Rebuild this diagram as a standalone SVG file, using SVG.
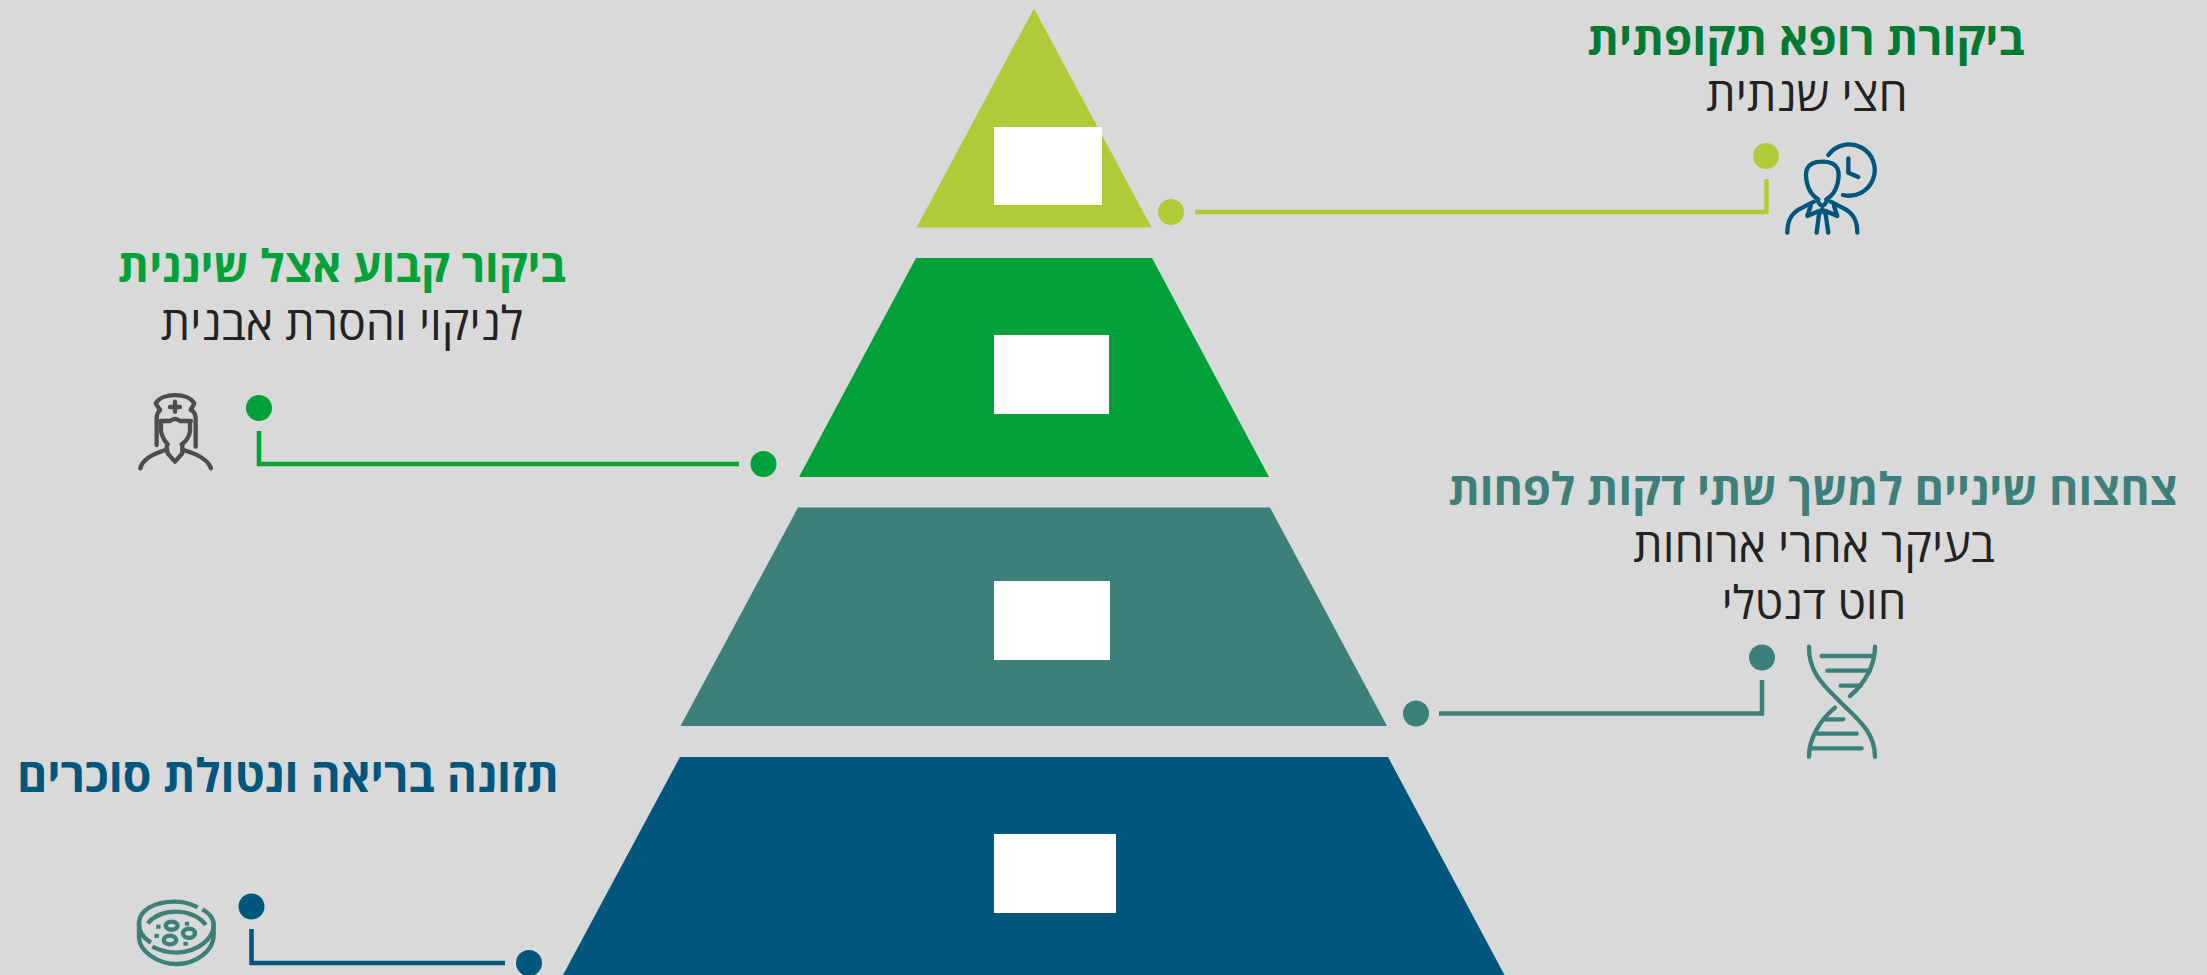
<svg xmlns="http://www.w3.org/2000/svg" width="2207" height="975" viewBox="0 0 2207 975">
<style>
text{font-family:"Open Sans","Liberation Sans",sans-serif;text-anchor:middle;direction:rtl}
.t{font-size:45.500px;font-weight:700}
.s{font-size:46.500px;font-weight:500;fill:#222}
.w{fill:#fff}
.c{fill:none;stroke-width:4.500}
.i{fill:none;stroke-linecap:round;stroke-linejoin:round}
</style>
<rect width="2207" height="975" fill="#d9d9d9"/>
<g id="connectors">
<path class="c" stroke="#b0cb38" d="M1195 212H1766.500V179"/>
<path class="c" stroke="#00a139" d="M739 464H259V431"/>
<path class="c" stroke="#3d7f7a" d="M1439 713.500H1762V680"/>
<path class="c" stroke="#00567d" d="M505 963H251.500V929"/>
</g>
<g id="tier1">
<polygon fill="#b0cb38" points="1034,8.500 1151.500,227.500 916.500,227.500"/>
<rect class="w" x="994" y="127" width="108" height="78"/>
<circle cx="1171" cy="212" r="13" fill="#b0cb38"/>
<circle cx="1766" cy="156" r="13" fill="#b0cb38"/>
<text class="t" x="1806" y="54.500" fill="#007a33">ביקורת רופא תקופתית</text>
<text class="s" x="1807" y="111">חצי שנתית</text>
<g id="icon-doctor" class="i" stroke="#00567d" stroke-width="13" transform="translate(1769 131) scale(.3333)">
<path d="M178 72A77 77 0 1 1 222 192"/>
<path d="M238 82V125L268 138"/>
<path d="M148 205C130 195 120 180 115 160C106 125 108 92 160 92C212 92 214 125 205 160C200 180 190 195 172 205"/>
<path d="M146 207Q150 222 160 224Q170 222 174 207"/>
<path d="M135 212L90 235C65 250 55 270 55 305M185 212L230 235C255 250 265 270 265 305"/>
<path d="M125 225L115 255L150 240M195 225L205 255L170 240"/>
<path d="M160 235L150 250L143 305M160 235L170 250L178 305"/>
</g>
</g>
<g id="tier2">
<polygon fill="#00a139" points="916,258 1152,258 1269,477 799,477"/>
<rect class="w" x="994" y="335" width="115" height="79"/>
<circle cx="763.500" cy="464" r="13" fill="#00a139"/>
<circle cx="259" cy="408" r="13" fill="#00a139"/>
<text class="t" x="342" y="281.500" fill="#00a139" style="font-size:44.800px">ביקור קבוע אצל שיננית</text>
<text class="s" x="342" y="339.500">לניקוי והסרת אבנית</text>
<g id="icon-nurse" class="i" stroke="#4d4d4d" stroke-width="13" transform="translate(125 385) scale(.3333)">
<path d="M105 75L92 55C110 22 190 22 208 55L197 75"/>
<path d="M95 180V100Q95 85 105 75M212 185V100Q212 85 200 75"/>
<path d="M106 108H135Q150 96 165 108H198"/>
<path d="M150 50V80M135 66H165"/>
<path d="M108 115V140Q115 165 128 178M195 115V140Q190 165 170 178"/>
<path d="M125 185L128 205L150 230L172 205V180"/>
<path d="M46 250Q54 215 122 195M258 250Q246 215 175 195"/>
</g>
</g>
<g id="tier3">
<polygon fill="#3d7f7a" points="798,507.500 1270,507.500 1387,726 680.500,726"/>
<rect class="w" x="994" y="581" width="116" height="79"/>
<circle cx="1416" cy="713.500" r="13" fill="#3d7f7a"/>
<circle cx="1762" cy="657.500" r="13" fill="#3d7f7a"/>
<text class="t" x="1813" y="504.500" fill="#3d7f7a" style="font-size:44.900px">צחצוח שיניים למשך שתי דקות לפחות</text>
<text class="s" x="1814" y="561.500">בעיקר אחרי ארוחות</text>
<text class="s" x="1814" y="618.500" style="font-size:45.500px">חוט דנטלי</text>
<g id="icon-dna" class="i" stroke="#3d7f7a" stroke-width="13" transform="translate(1790 635) scale(.3333)">
<path d="M57 35C55 110 100 150 150 200C200 250 255 290 255 365"/>
<path d="M255 35C255 90 225 145 180 183M135 218C90 255 57 310 57 365"/>
<path d="M95 63H250M112 107H240M152 152H212M105 253H160M78 296H200M60 340H215"/>
</g>
</g>
<g id="tier4">
<polygon fill="#00567d" points="680,757 1388,757 1504.500,975 563,975"/>
<rect class="w" x="994" y="834" width="122" height="79"/>
<circle cx="529" cy="963" r="13" fill="#00567d"/>
<circle cx="251.500" cy="906.500" r="13" fill="#00567d"/>
<text class="t" x="288" y="791.500" fill="#00567d" style="font-size:46.100px">תזונה בריאה ונטולת סוכרים</text>
<g id="icon-dish" class="i" stroke="#3d7f7a" stroke-width="13" transform="translate(125 890) scale(.3333)" style="stroke-linecap:butt">
<path d="M218 52C190 38 170 35 150 35C90 35 42 60 42 100C42 125 55 145 78 158"/>
<path d="M232 58C255 70 266 85 266 105C266 145 220 185 155 188C130 188 105 182 82 170"/>
<path d="M68 100C90 75 120 65 152 65C190 65 225 80 242 105"/>
<path d="M42 95V140C42 185 100 222 155 222C210 222 266 185 266 135V95"/>
<ellipse cx="140" cy="107" rx="18" ry="12"/>
<ellipse cx="135" cy="150" rx="19" ry="13"/>
<ellipse cx="192" cy="130" rx="18" ry="14"/>
<path d="M100 104V116M95 132V144M186 95V107M182 155V167"/>
</g>
</g>
</svg>
